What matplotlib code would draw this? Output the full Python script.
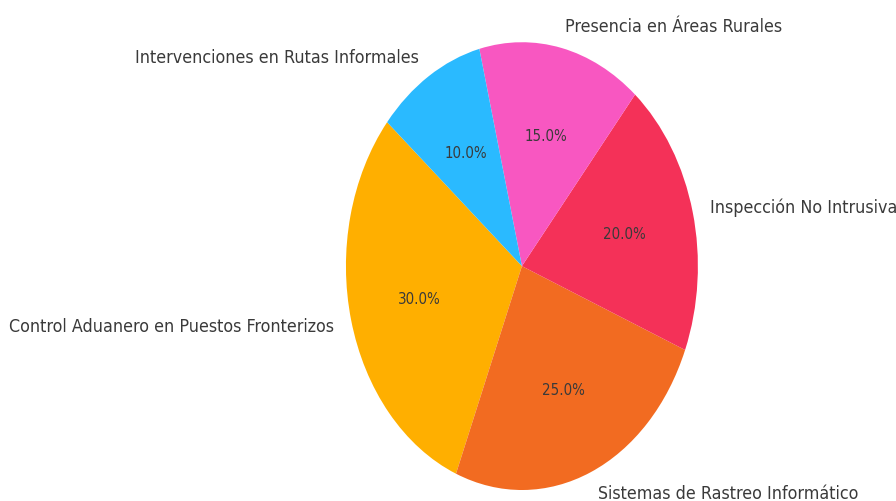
import matplotlib
matplotlib.use('Agg')
import matplotlib.pyplot as plt

labels = ['Control Aduanero en Puestos Fronterizos', 'Sistemas de Rastreo Informático',
          'Inspección No Intrusiva', 'Presencia en Áreas Rurales',
          'Intervenciones en Rutas Informales']
shares = [30, 25, 20, 15, 10]
colors = ['#FFAF00', '#F26B21', '#F43158', '#F857C1', '#2ABAFF']

fig = plt.figure(figsize=(8.96, 5.02), dpi=100)
ax = fig.add_axes([0.337, -0.0896, 0.491, 1.115])

wedges, texts, autotexts = ax.pie(shares, labels=labels, colors=colors,
                                  autopct='%1.1f%%', startangle=140,
                                  labeldistance=1.1, pctdistance=0.6,
                                  textprops={'color': '#3a3a3a'})
ax.set_aspect('auto')
ax.set_xlim(-1.25, 1.25)
ax.set_ylim(-1.25, 1.25)

for t in texts:
    t.set_fontsize(12.8)
    t.set_fontstretch('condensed')
for t in autotexts:
    t.set_fontsize(10.8)
    t.set_fontstretch('condensed')

fig.savefig('out.png', dpi=100)
